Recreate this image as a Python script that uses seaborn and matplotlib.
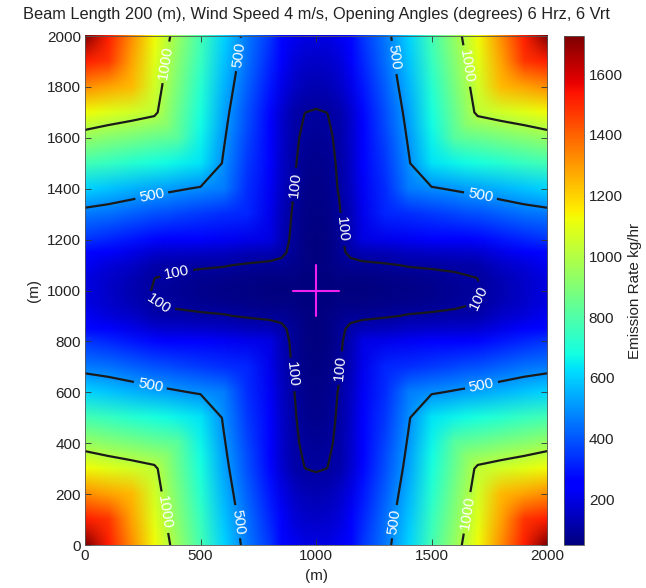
import numpy as np
import matplotlib
matplotlib.use("Agg")
import matplotlib.pyplot as plt
from matplotlib.image import NonUniformImage
from matplotlib.colors import Normalize
import seaborn as sns

# ---------------- data ----------------
title = "Beam Length 200 (m), Wind Speed 4 m/s, Opening Angles (degrees) 6 Hrz, 6 Vrt"
center = 1000
# distance (m) from the beam centre, used for both axes
offsets = [0, 50, 100, 150, 200, 300, 400, 500, 600, 650, 700, 800, 900, 1000]
# emission rate (kg/hr); row = larger |offset| (x or y), column = smaller |offset|
rate_rows = [
    [50],
    [50, 55],
    [51, 58, 72],
    [52, 60, 85, 112],
    [54, 61, 86, 131, 195],
    [59, 67, 94, 141, 209, 319],
    [66, 75, 104, 153, 223, 337, 466],
    [75, 82, 108, 159, 237, 355, 489, 635],
    [86, 90, 112, 162, 253, 374, 511, 661, 821],
    [91, 96, 114, 166, 261, 384, 522, 675, 837, 920],
    [96, 100.5, 118, 170, 270, 394, 534, 688, 852, 937, 1026],
    [125, 131, 155, 205, 295, 420, 560, 716, 882, 970, 1060, 1246],
    [158, 163, 186, 235, 320, 445, 586, 745, 913, 1000, 1093, 1283, 1482],
    [195, 200, 222, 268, 345, 462, 612, 772, 944, 1034, 1128, 1321, 1522, 1725],
]
contour_levels = [100, 500, 1000]
beam_h_x = [900, 1100]
beam_h_y = [1000, 1000]
beam_v_x = [1000, 1000]
beam_v_y = [900, 1100]
x_ticks = [0, 500, 1000, 1500, 2000]
y_ticks = [0, 200, 400, 600, 800, 1000, 1200, 1400, 1600, 1800, 2000]
cbar_ticks = [200, 400, 600, 800, 1000, 1200, 1400, 1600]

# label positions for contour values (layout only)
label_pos = [
    (355, 1896), (1636, 1880), (325, 126), (1658, 126),
    (290, 1369), (667, 1927), (1329, 1915), (1710, 1365),
    (281, 621), (645, 90), (1718, 621), (1355, 90),
    (912, 1416), (1104, 1239), (397, 1068), (325, 963),
    (1688, 976), (887, 669), (1111, 695),
]

# ---------------- build grid (symmetric quadrants) ----------------
n = len(offsets)
quad = np.zeros((n, n))
for i in range(n):
    for j in range(n):
        quad[i, j] = rate_rows[max(i, j)][min(i, j)]
full_idx = list(range(n - 1, 0, -1)) + list(range(n))
signs = [-1] * (n - 1) + [1] * n
coords = np.array([center + s * offsets[k] for s, k in zip(signs, full_idx)], dtype=float)
Z = quad[np.ix_(full_idx, full_idx)]
X, Y = np.meshgrid(coords, coords)

# ---------------- style ----------------
sns.set_theme(style="white")
plt.rcParams["font.family"] = ["Liberation Sans", "DejaVu Sans"]
plt.rcParams["font.size"] = 11

fig = plt.figure(figsize=(6.46, 5.88), dpi=100)
ax = fig.add_axes([0.1316, 0.0731, 0.7152, 0.8656])
cax = fig.add_axes([0.873, 0.0731, 0.031, 0.8656])

norm = Normalize(vmin=Z.min(), vmax=Z.max())
im = NonUniformImage(ax, interpolation="bilinear", cmap="jet", norm=norm,
                     extent=(0, 2000, 0, 2000))
im.set_data(coords, coords, Z)
ax.add_image(im)

cs = ax.contour(X, Y, Z, levels=contour_levels, colors="k", linewidths=1.6)
ax.clabel(cs, fmt="%d", colors="white", fontsize=11, inline=True,
          inline_spacing=4, manual=label_pos)

ax.plot(beam_h_x, beam_h_y, color="#f020f0", lw=1.5)
ax.plot(beam_v_x, beam_v_y, color="#f020f0", lw=1.5)

ax.set_xlim(0, 2000)
ax.set_ylim(0, 2000)
ax.set_xticks(x_ticks)
ax.set_yticks(y_ticks)
ax.tick_params(direction="in", length=4, width=0.6, color="#333333",
               labelsize=11, labelcolor="#222222", top=True, right=True,
               bottom=True, left=True, pad=3)
for sp in ax.spines.values():
    sp.set_color("#555555")
    sp.set_linewidth(0.6)
ax.set_xlabel("(m)", fontsize=11, labelpad=4, color="#222222")
ax.set_ylabel("(m)", fontsize=11, labelpad=4, color="#222222")
ax.set_title(title, fontsize=11.8, pad=12, color="#222222")

cb = fig.colorbar(plt.cm.ScalarMappable(norm=norm, cmap="jet"), cax=cax)
cb.set_ticks(cbar_ticks)
cax.tick_params(direction="in", length=4, width=0.6, color="#333333",
                left=True, right=True, labelsize=11, labelcolor="#222222")
cb.outline.set_edgecolor("#555555")
cb.outline.set_linewidth(0.6)
cb.set_label("Emission Rate kg/hr", fontsize=11, color="#222222", labelpad=4)

fig.savefig("out.png", dpi=100)
